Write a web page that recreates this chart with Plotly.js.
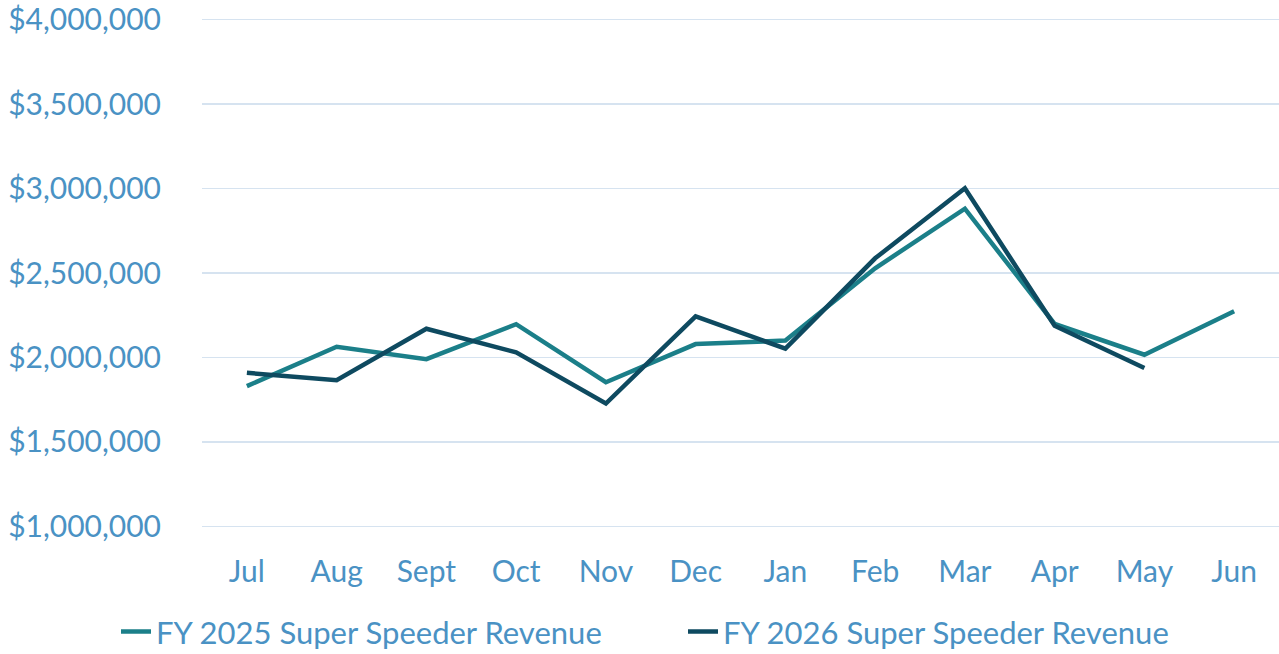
<!DOCTYPE html>
<html>
<head>
<meta charset="utf-8">
<script src="https://cdn.plot.ly/plotly-3.0.1.min.js"></script>
<style>html,body{margin:0;padding:0;background:#fff;}#chart{width:1279px;height:654px;}</style>
</head>
<body>
<div id="chart"></div>
<script>
const months = ["Jul","Aug","Sept","Oct","Nov","Dec","Jan","Feb","Mar","Apr","May","Jun"];
const fy2025 = [1830000, 2063000, 1990000, 2197000, 1853000, 2079000, 2100000, 2528000, 2881000, 2198000, 2016000, 2273000];
const fy2026 = [1909000, 1865000, 2170000, 2030000, 1727000, 2243000, 2052000, 2587000, 3002000, 2188000, 1937000];
const seriesNames = ["FY 2025 Super Speeder Revenue", "FY 2026 Super Speeder Revenue"];

const labelColor = "#4a92c4";
const fontFam = "Lato, 'Noto Sans', sans-serif";

const traces = [
  {x: months, y: fy2025, name: seriesNames[0], type: "scatter", mode: "lines",
   line: {color: "#1b7f89", width: 4.5}, legend: "legend"},
  {x: months.slice(0, fy2026.length), y: fy2026, name: seriesNames[1], type: "scatter", mode: "lines",
   line: {color: "#0e4a60", width: 4.5}, legend: "legend2"}
];

const legendCommon = {orientation: "h", xref: "container", yref: "container", xanchor: "left", yanchor: "middle",
  y: 0.034, font: {size: 31, color: labelColor}, itemwidth: 30, bgcolor: "rgba(0,0,0,0)"};

const layout = {
  width: 1279, height: 654,
  margin: {l: 202, r: 0, t: 18, b: 126},
  paper_bgcolor: "#fff", plot_bgcolor: "#fff",
  font: {family: fontFam, color: labelColor, size: 30},
  showlegend: true,
  legend: Object.assign({}, legendCommon, {x: 116 / 1279}),
  legend2: Object.assign({}, legendCommon, {x: 683 / 1279}),
  xaxis: {type: "category", range: [-0.5, 11.5], showgrid: false, zeroline: false, showline: false,
          ticks: "", ticklabelstandoff: 23, tickfont: {size: 30, color: labelColor}},
  yaxis: {range: [990000, 4010000], tickmode: "linear", dtick: 500000, tick0: 0, showgrid: true, gridcolor: "#d6e3f0", gridwidth: 1.5,
          zeroline: false, showline: false, ticks: "", tickprefix: "$", tickformat: ",d",
          ticklabelstandoff: 40, tickfont: {size: 30, color: labelColor}}
};

Plotly.newPlot("chart", traces, layout, {displayModeBar: false, staticPlot: true});
</script>
</body>
</html>
